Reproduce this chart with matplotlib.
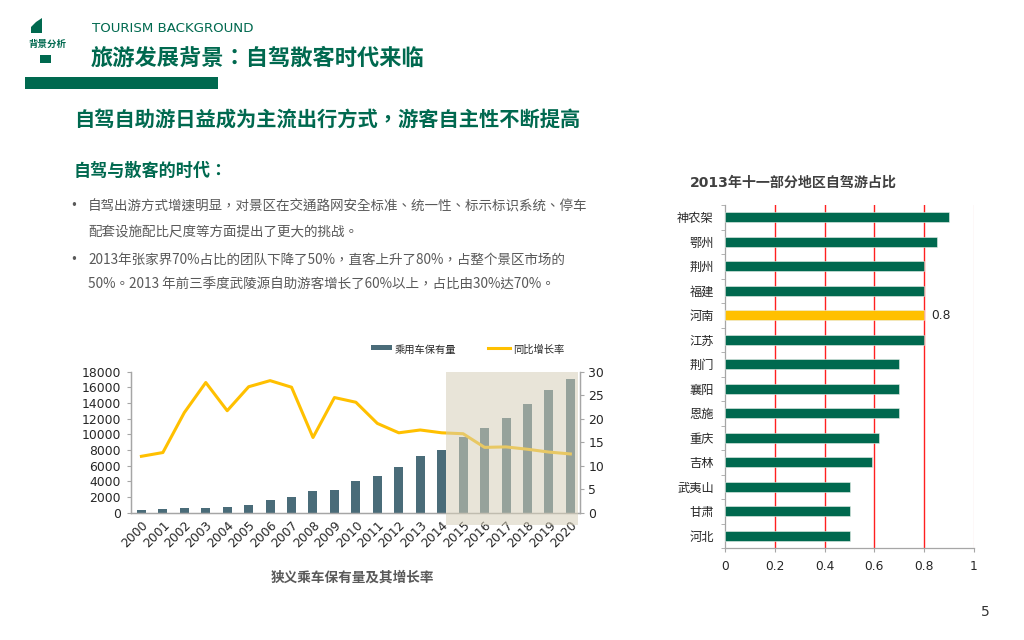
import matplotlib
matplotlib.use("Agg")
import matplotlib.pyplot as plt
from matplotlib.patches import Rectangle, Polygon
from matplotlib.lines import Line2D
import matplotlib.transforms as mtransforms
import numpy as np

plt.rcParams['font.family'] = ['DejaVu Sans', 'Noto Sans CJK SC']
CJK = ['Noto Sans CJK SC', 'DejaVu Sans']
CJK_C = ['Noto Sans CJK TC', 'DejaVu Sans']   # centred full-width punctuation
MIX = ['DejaVu Sans', 'Noto Sans CJK SC']

# ---------------- data ----------------
years = [str(y) for y in range(2000, 2021)]
car_stock = [350, 470, 550, 640, 720, 980, 1660, 2040, 2720, 2850, 4040, 4680,
             5830, 7190, 8000, 9700, 10810, 12040, 13830, 15660, 17060]
growth_rate = [12.0, 12.8, 21.3, 27.7, 21.7, 26.8, 28.1, 26.7, 16.0, 24.5, 23.5,
               19.0, 17.0, 17.6, 17.0, 16.8, 13.9, 14.0, 13.5, 12.9, 12.5]
left_yticks = [0, 2000, 4000, 6000, 8000, 10000, 12000, 14000, 16000, 18000]
right_yticks = [0, 5, 10, 15, 20, 25, 30]
forecast_first = 15  # first forecast year index (2015)

regions = ['神农架', '鄂州', '荆州', '福建', '河南', '江苏', '荆门', '襄阳',
           '恩施', '重庆', '吉林', '武夷山', '甘肃', '河北']
shares = [0.9, 0.85, 0.8, 0.8, 0.8, 0.8, 0.7, 0.7, 0.7, 0.62, 0.59, 0.5, 0.5, 0.5]
highlight = '河南'
share_ticks = [0, 0.2, 0.4, 0.6, 0.8, 1]

GREEN = '#00694f'
YELLOW = '#ffc000'
SLATE = '#4a6c79'
GRAY_TXT = '#595959'
AX_GRAY = '#a6a6a6'
BAR_W = 0.42

W, H = 1024, 640
fig = plt.figure(figsize=(W / 100, H / 100), dpi=100)


def fx(x):
    return x / W


def fy(y):
    return 1 - y / H


def ftext(x, y, s, **kw):
    fig.text(fx(x), fy(y), s, **kw)


# ---------------- header decorations ----------------
fig.add_artist(Polygon([(fx(31), fy(27)), (fx(36), fy(22)), (fx(42), fy(18)),
                        (fx(42), fy(33)), (fx(31), fy(33))],
                       closed=True, facecolor=GREEN, edgecolor='none'))
ftext(48, 44, '背景分析', fontsize=6.8, fontweight='bold', color=GREEN,
      ha='center', va='center', family=CJK)
fig.add_artist(Rectangle((fx(40), fy(63)), fx(11), 8 / H, facecolor=GREEN,
                         edgecolor='none'))
fig.add_artist(Rectangle((fx(25), fy(89)), fx(193), 12 / H, facecolor=GREEN,
                         edgecolor='none'))

ftext(92, 29, 'TOURISM BACKGROUND', fontsize=9.6, color=GREEN, ha='left',
      va='center')
ftext(91, 58, '旅游发展背景：自驾散客时代来临', fontsize=16, fontweight='bold',
      color=GREEN, ha='left', va='center', family=CJK_C)
ftext(74, 119, '自驾自助游日益成为主流出行方式，游客自主性不断提高', fontsize=14.6,
      fontweight='bold', color=GREEN, ha='left', va='center', family=CJK_C)
ftext(74, 171, '自驾与散客的时代：', fontsize=12.3, fontweight='bold', color=GREEN,
      ha='left', va='center', family=CJK_C)

bullet_lines = [
    (206, True, '自驾出游方式增速明显，对景区在交通路网安全标准、统一性、标示标识系统、停车'),
    (231, False, '配套设施配比尺度等方面提出了更大的挑战。'),
    (260, True, '2013年张家界70%占比的团队下降了50%，直客上升了80%，占整个景区市场的'),
    (285, False, '50%。2013 年前三季度武陵源自助游客增长了60%以上，占比由30%达70%。'),
]
for y, has_dot, s in bullet_lines:
    if has_dot:
        ftext(74, y, '•', fontsize=8.5, color=GRAY_TXT, ha='center', va='center',
              family=['DejaVu Sans'])
    ftext(88, y, s, fontsize=9.75, color=GRAY_TXT, ha='left', va='center',
          family=CJK_C)

ftext(985, 612, '5', fontsize=10, color='#333333', ha='center', va='center')

# ---------------- left chart ----------------
ax = fig.add_axes([fx(130.7), fy(512.7), fx(580 - 130.7), (512.7 - 371.7) / H])
x = np.arange(len(years))
ax.bar(x, car_stock, width=BAR_W, color=SLATE, zorder=2)
ax.set_xlim(-0.5, len(years) - 0.55)
ax.set_ylim(0, 18000)
ax.set_yticks(left_yticks)
ax.set_yticklabels([str(v) for v in left_yticks])
ax.set_xticks(x)
ax.set_xticklabels(years, rotation=45, ha='right', rotation_mode='anchor')
ax.tick_params(axis='x', length=0, pad=4, labelsize=8.9, labelcolor='#262626')
ax.tick_params(axis='y', length=3, color=AX_GRAY, pad=4, labelsize=8.9,
               labelcolor='#262626')
ax.spines['top'].set_visible(False)
for side in ['left', 'bottom', 'right']:
    ax.spines[side].set_color(AX_GRAY)
    ax.spines[side].set_linewidth(0.9)

ax2 = ax.twinx()
ax2.plot(x, growth_rate, color=YELLOW, lw=2.2, zorder=3)
ax2.set_ylim(0, 30)
ax2.set_yticks(right_yticks)
ax2.set_yticklabels([str(v) for v in right_yticks])
ax2.tick_params(axis='y', length=3, color=AX_GRAY, pad=3, labelsize=8.9,
                labelcolor='#262626')
ax2.spines['top'].set_visible(False)
for side in ['left', 'bottom', 'right']:
    ax2.spines[side].set_color(AX_GRAY)
    ax2.spines[side].set_linewidth(0.9)

trans = mtransforms.blended_transform_factory(ax2.transData, ax2.transAxes)
shade_x0 = forecast_first - 1 + BAR_W / 2
shade_x1 = len(years) - 0.65
ax2.add_patch(Rectangle((shade_x0, -0.09), shade_x1 - shade_x0, 1.09,
                        transform=trans, facecolor='#d6cfb8', alpha=0.55,
                        edgecolor='none', clip_on=False, zorder=5))

# legend
fig.add_artist(Rectangle((fx(371), fy(350)), fx(21), 5 / H, facecolor=SLATE,
                         edgecolor='none'))
ftext(395, 350, '乘用车保有量', fontsize=7.4, color='#262626', ha='left',
      va='center', family=CJK)
fig.add_artist(Line2D([fx(488), fx(510)], [fy(347.5), fy(347.5)], color=YELLOW,
                      lw=2.2))
ftext(513, 350, '同比增长率', fontsize=7.4, color='#262626', ha='left',
      va='center', family=CJK)

ftext(352, 578, '狭义乘车保有量及其增长率', fontsize=9.8, fontweight='bold',
      color=GRAY_TXT, ha='center', va='center', family=CJK)

# ---------------- right chart ----------------
bx = fig.add_axes([fx(725), fy(548), fx(974 - 725), (548 - 205) / H])
yy = np.arange(len(regions))
colors = [YELLOW if r == highlight else GREEN for r in regions]
bx.barh(yy, shares, height=0.41, color=colors, edgecolor='#e8efe9',
        linewidth=0.4, zorder=3)
bx.set_ylim(len(regions) - 0.5, -0.5)
bx.set_xlim(0, 1)
bx.set_xticks(share_ticks)
bx.set_xticklabels([('%g' % v) for v in share_ticks])
bx.set_yticks(yy)
bx.set_yticklabels(regions, family=CJK)
bx.tick_params(axis='y', length=0, pad=8, labelsize=8.8, labelcolor='#262626')
bx.set_yticks(np.arange(len(regions) + 1) - 0.5, minor=True)
bx.tick_params(axis='y', which='minor', length=3, color=AX_GRAY)
bx.tick_params(axis='x', length=3, color=AX_GRAY, pad=6, labelsize=8.8,
               labelcolor='#262626')
for v in share_ticks[1:-1]:
    bx.axvline(v, color='#ff2020', lw=1.0, zorder=1)
bx.axvline(share_ticks[-1], color='#f6dcdc', lw=1.0, zorder=1)
for side in ['top', 'right']:
    bx.spines[side].set_visible(False)
for side in ['left', 'bottom']:
    bx.spines[side].set_color(AX_GRAY)
    bx.spines[side].set_linewidth(0.9)
hi = regions.index(highlight)
bx.text(shares[hi] + 0.03, hi, '%g' % shares[hi], fontsize=8.8,
        color='#262626', ha='left', va='center')

ftext(793, 183, '2013年十一部分地区自驾游占比', fontsize=10.1, fontweight='bold',
      color='#404040', ha='center', va='center', family=MIX)

fig.savefig('out.png', dpi=100)
